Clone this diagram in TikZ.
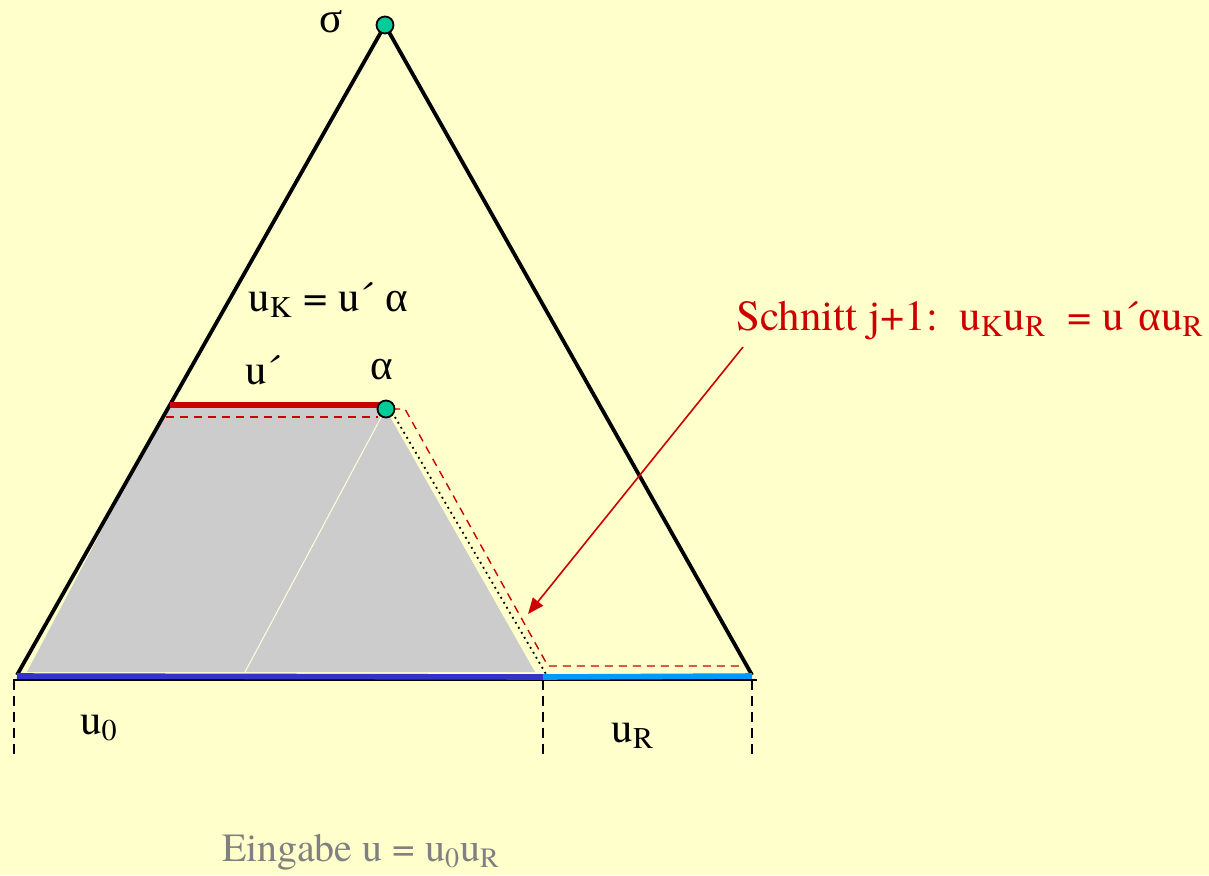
\documentclass[tikz,border=0pt]{standalone}
\usepackage{fontspec}
\setmainfont{TeX Gyre Termes}
\newfontfamily\labelfont{TeX Gyre Termes}
\newfontfamily\greekfont{Liberation Serif}
\usetikzlibrary{arrows.meta,positioning}
\definecolor{bgyellow}{HTML}{FFFFCC}
\definecolor{cutred}{HTML}{CC0000}
\definecolor{inblue}{HTML}{3333CC}
\definecolor{restblue}{HTML}{0099FF}
\definecolor{dotgreen}{HTML}{00CC99}
\definecolor{subtreegray}{HTML}{CCCCCC}
\definecolor{labelgray}{HTML}{808080}
\newcommand{\gr}[1]{{\greekfont #1}}

\begin{document}
\begin{tikzpicture}[
  x=0.5pt,y=-0.5pt,
  lbl/.style={inner sep=0pt,font=\labelfont\fontsize{21.5}{25}\selectfont},
  side/.style={line width=1.9pt,black},
  cutline/.style={cutred,line width=0.7pt,dash pattern=on 4pt off 3pt},
  marker/.style={circle,draw=black,line width=0.9pt,fill=dotgreen,minimum size=8.5pt,inner sep=0pt},
  arrow/.style={-{Triangle[length=8pt,width=6.5pt]},cutred,line width=0.8pt},
  split/.style={line width=0.7pt,dash pattern=on 5pt off 3pt}
]
  \fill[bgyellow] (0,0) rectangle (1209,875);
  \useasboundingbox (0,0) rectangle (1209,875);

  % Points of the tree
  \coordinate (top) at (385,25);
  \coordinate (bl) at (17,675);
  \coordinate (br) at (752,675);
  \coordinate (alpha) at (386,409);
  \coordinate (cut) at (543,677);

  % Shaded part
  \fill[subtreegray] (166,408) -- (385,408) -- (535,672) -- (27,672) -- cycle;
  \draw[bgyellow!70!white,line width=0.5pt] (385,410) -- (245,672);

  % Triangle
  \draw[side,line join=miter] (bl) -- (top) -- (br);

  % Base
  \draw[line width=1.1pt] (13,680) -- (757,680);
  \draw[inblue,line width=2.8pt] (17,676) -- (cut);
  \draw[restblue,line width=2.8pt] (cut) -- (752,676);
  \foreach \x in {14,543,752}
    \draw[split] (\x,680) -- (\x,757);

  % u' alpha
  \draw[cutred,line width=2.8pt] (170,405) -- (386,405);
  \draw[cutline] (166,417) -- (378,417);
  \draw[cutline] (392,409) -- (405,409) -- (548,666) -- (745,666);
  \draw[black,dotted,line width=0.9pt] (392,412) -- (546,674);

  \node[marker] (sigmadot) at (top) {};
  \node[marker] (alphadot) at (alpha) {};

  % Labels
  \node[lbl] (sigma) at (331,22) {\gr{σ}};
  \node[lbl] (uk) at (328,300) {u\textsubscript{K} = u´ \gr{α}};
  \node[lbl] (uprime) at (263,370) {u´};
  \node[lbl] (alab) at (382,370) {\gr{α}};
  \node[lbl] (u0) at (99,728) {u\textsubscript{0}};
  \node[lbl] (ur) at (633,736) {u\textsubscript{R}};
  \node[lbl,text=labelgray,font=\labelfont\fontsize{20}{24}\selectfont] (input) at (361,852) {Eingabe u = u\textsubscript{0}u\textsubscript{R}};
  \node[lbl,text=cutred] (schnitt) at (970,320) {Schnitt j+1:\ \ u\textsubscript{K}u\textsubscript{R} \ = u´\gr{α}u\textsubscript{R}};

  \coordinate (from) at (743,347);
  \coordinate (to) at (528,614);
  \draw[arrow] (from) -- (to);
\end{tikzpicture}
\end{document}
